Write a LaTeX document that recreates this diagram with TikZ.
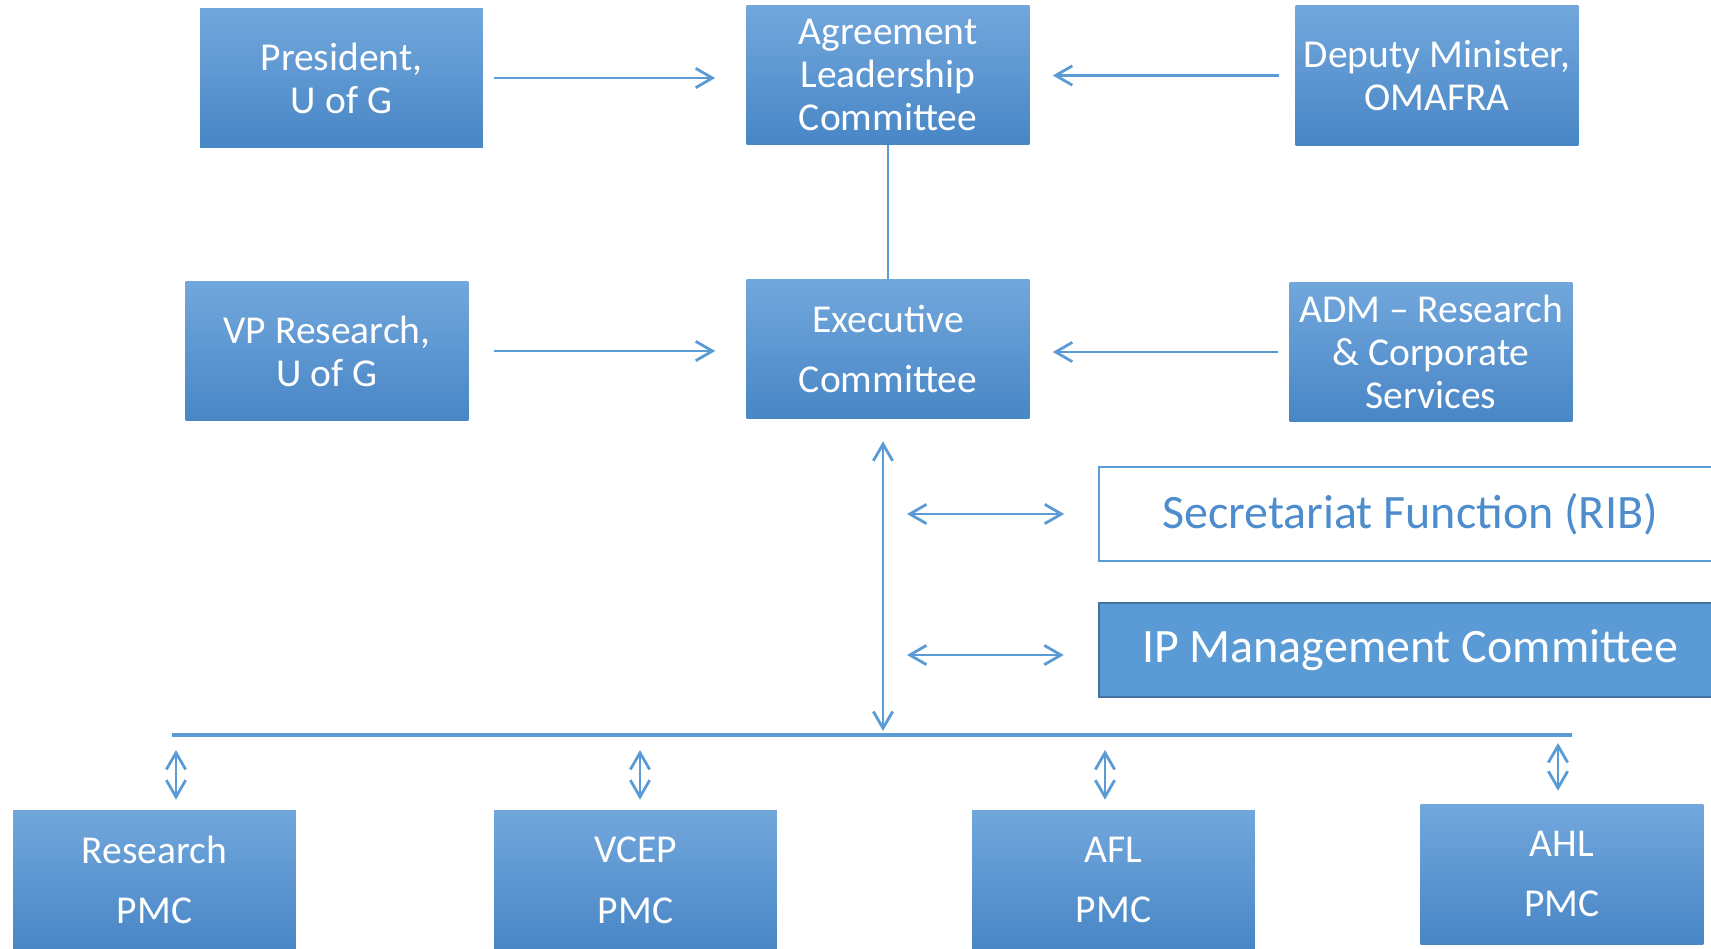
\documentclass[tikz,border=0pt]{standalone}
\usepackage{fontspec}
\setmainfont{Carlito}
\usetikzlibrary{arrows.meta}

\definecolor{boxtop}{RGB}{114,167,220}
\definecolor{boxmid}{RGB}{86,153,220}
\definecolor{boxbot}{RGB}{72,134,198}
\definecolor{linkblue}{RGB}{91,155,213}
\definecolor{ipborder}{RGB}{65,113,156}
\definecolor{sectext}{RGB}{78,141,205}

\tikzset{
  unit/.style={minimum width=5.66cm, minimum height=2.8cm, inner sep=0pt,
    align=center, text=white, top color=boxtop, middle color=boxmid,
    bottom color=boxbot, font=\fontsize{22.5}{24.5}\selectfont},
  wide/.style={minimum width=12.44cm, minimum height=1.88cm, inner sep=0pt,
    font=\fontsize{27.3}{30}\selectfont},
  link/.style={draw=linkblue, line width=1.6pt,
    -{Straight Barb[length=9.5pt,width=11pt]}},
  twoway/.style={link,
    {Straight Barb[length=9.5pt,width=11pt]}-{Straight Barb[length=9.5pt,width=11pt]}},
}

\begin{document}
\begin{tikzpicture}[x=0.02cm, y=-0.02cm]
\useasboundingbox (0,0) rectangle (1711,948);

% top row
\node[unit] (pres) at (341.5,78) {President,\\U of G};
\node[unit] (alc) at (888,75) {Agreement\\Leadership\\Committee};
\node[unit] (dep) at (1437,75.5) {Deputy Minister,\\OMAFRA};

% second row
\node[unit] (vp) at (327,351) {VP Research,\\U of G};
\node[unit] (exec) at (888,349) {Executive\\[10pt]Committee};
\node[unit] (adm) at (1431,352) {ADM -- Research\\\& Corporate\\Services};

% side boxes
\node[wide, draw=linkblue, line width=1pt, fill=white, text=sectext] (sec) at (1410,514) {Secretariat Function (RIB)};
\node[wide, draw=ipborder, line width=1.5pt, fill=linkblue, text=white] (ip) at (1410,650) {IP Management Committee};

% bottom row
\node[unit] (res) at (154.5,880) {Research\\[10pt]PMC};
\node[unit] (vcep) at (635.5,880) {VCEP\\[10pt]PMC};
\node[unit] (afl) at (1113.5,880) {AFL\\[10pt]PMC};
\node[unit] (ahl) at (1562,874) {AHL\\[10pt]PMC};

% arrows into the committees
\draw[link, shorten <=0.22cm, shorten >=0.62cm] (pres.east) -- (pres.east -| alc.west);
\draw[link, shorten <=0.32cm, shorten >=0.46cm] (dep.west) -- (dep.west -| alc.east);
\draw[link, shorten <=0.5cm, shorten >=0.62cm] (vp.east) -- (vp.east -| exec.west);
\draw[link, shorten <=0.22cm, shorten >=0.46cm] (adm.west) -- (adm.west -| exec.east);
\draw[linkblue, line width=0.8pt] (alc.south) -- (exec.north);

% bus line
\coordinate (busL) at (172,735);
\coordinate (busR) at (1572,735);
\coordinate (busC) at (883,731);
\draw[linkblue, line width=2.3pt] (busL) -- (busR);
\draw[twoway, shorten <=0.44cm] (exec.south -| busC) -- (busC);

% links to secretariat and IP committee
\coordinate (ipIn) at ([yshift=-0.1cm]ip.west);
\draw[twoway, shorten <=0.48cm, shorten >=0.68cm] (sec.west -| busC) -- (sec.west);
\draw[twoway, shorten <=0.48cm, shorten >=0.68cm] (ipIn -| busC) -- (ipIn);

% links down to the PMCs
\coordinate (tapA) at (176,735);
\coordinate (tapB) at (640,735);
\coordinate (tapC) at (1105,735);
\coordinate (tapD) at (1558,735);
\draw[twoway, shorten <=0.3cm, shorten >=0.2cm] (tapA) -- (tapA |- res.north);
\draw[twoway, shorten <=0.3cm, shorten >=0.2cm] (tapB) -- (tapB |- vcep.north);
\draw[twoway, shorten <=0.3cm, shorten >=0.2cm] (tapC) -- (tapC |- afl.north);
\draw[twoway, shorten <=0.16cm, shorten >=0.26cm] (tapD) -- (tapD |- ahl.north);

\end{tikzpicture}
\end{document}
